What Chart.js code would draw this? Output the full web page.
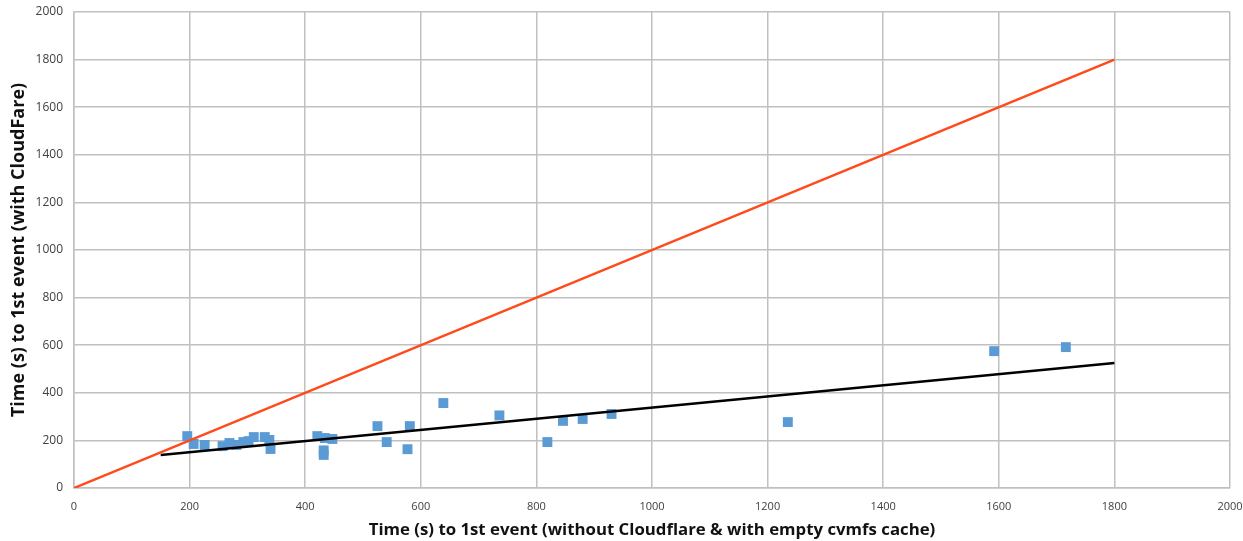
<!DOCTYPE html>
<html>
<head>
<meta charset="utf-8">
<script src="https://cdn.jsdelivr.net/npm/chart.js@4"></script>
<style>
  html, body { margin: 0; padding: 0; background: #fff; }
  #wrap { width: 1243px; height: 541px; position: relative; }
</style>
</head>
<body>
<div id="wrap"><canvas id="mainChart"></canvas></div>
<script>
// time to 1st event without Cloudflare (x) vs with CloudFare (y), seconds
const xNoCloudflare = [196, 207, 226, 257, 269, 281, 293, 302, 311, 330, 338, 340,
  421, 434, 447, 432, 432, 525, 541, 577, 581, 639, 736, 819, 846, 880, 930, 1235, 1592, 1716];
const yCloudfare = [218, 185, 181, 176, 189, 181, 193, 197, 214, 214, 202, 164,
  218, 210, 206, 158, 139, 260, 193, 163, 260, 357, 305, 193, 282, 290, 311, 277, 575, 592];

// y = x reference line
const diagX = [0, 1800];
const diagY = [0, 1800];

// linear trend line
const trendX = [150, 1800];
const trendY = [139, 525];

const xTicks = [0, 200, 400, 600, 800, 1000, 1200, 1400, 1600, 1800, 2000];

const toPoints = (xs, ys) => xs.map((x, i) => ({ x: x, y: ys[i] }));

const gridColor = "#c0c0c0";
const textColor = "#404040";

const ctx = document.getElementById("mainChart").getContext("2d");

const mainChart = new Chart(ctx, {
  type: "scatter",
  data: {
    datasets: [
      {
        label: "y = x",
        type: "line",
        data: toPoints(diagX, diagY),
        borderColor: "#ff4a1c",
        borderWidth: 2.5,
        pointRadius: 0,
        fill: false,
        order: 1
      },
      {
        label: "Trend",
        type: "line",
        data: toPoints(trendX, trendY),
        borderColor: "#000000",
        borderWidth: 2.5,
        pointRadius: 0,
        fill: false,
        order: 2
      },
      {
        label: "Runs",
        data: toPoints(xNoCloudflare, yCloudfare),
        backgroundColor: "#5b9bd5",
        borderColor: "#5b9bd5",
        borderWidth: 0,
        pointStyle: "rect",
        pointRadius: 7,
        order: 3
      }
    ]
  },
  options: {
    responsive: true,
    maintainAspectRatio: false,
    animation: false,
    layout: {
      padding: { top: 12, right: 13, left: 0, bottom: 0 }
    },
    plugins: {
      legend: { display: false },
      tooltip: { enabled: false }
    },
    scales: {
      x: {
        type: "linear",
        min: 0,
        max: 2000,
        afterBuildTicks: scale => { scale.ticks = xTicks.map(v => ({ value: v })); },
        afterFit: scale => {
          scale.height = 53;
          scale.paddingLeft = 0;
          scale.paddingRight = 0;
        },
        ticks: {
          color: textColor,
          padding: 12,
          callback: v => String(v),
          font: { family: "Open Sans", size: 11 }
        },
        grid: { color: gridColor, lineWidth: 1.5, drawTicks: false },
        border: { color: gridColor, width: 1.5 },
        title: {
          display: true,
          text: "Time (s) to 1st event (without Cloudflare & with empty cvmfs cache)",
          color: "#111",
          padding: { top: 2, bottom: 1 },
          font: { family: "Open Sans", size: 16.8, weight: "bold" }
        }
      },
      y: {
        min: 0,
        max: 2000,
        ticks: {
          stepSize: 200,
          color: textColor,
          padding: 11,
          callback: v => String(v),
          font: { family: "Open Sans", size: 12 }
        },
        afterFit: scale => {
          scale.width = 74;
          scale.paddingTop = 0;
          scale.paddingBottom = 0;
        },
        grid: { color: gridColor, lineWidth: 1.5, drawTicks: false },
        border: { color: gridColor, width: 1.5 },
        title: {
          display: true,
          text: "Time (s) to 1st event (with CloudFare)",
          color: "#111",
          padding: { top: 8, bottom: 0 },
          font: { family: "Open Sans", size: 18, weight: "bold" }
        }
      }
    }
  }
});
</script>
</body>
</html>
